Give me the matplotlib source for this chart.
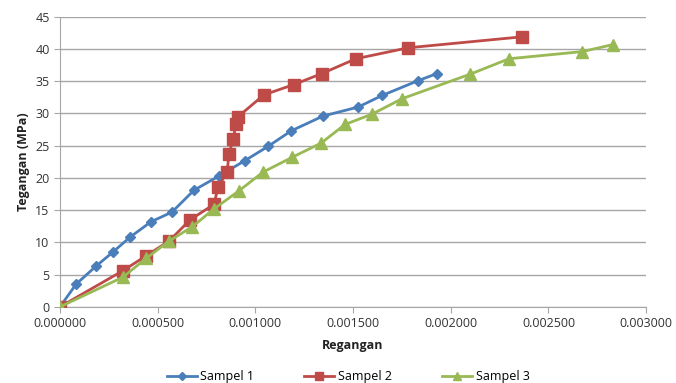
import matplotlib.pyplot as plt
from matplotlib.ticker import FormatStrFormatter, MultipleLocator

# Sampel 1
strain_1 = [0.0, 0.000082, 0.000184, 0.000271, 0.000358, 0.000466, 0.000573, 0.000686,
            0.000814, 0.000947, 0.001065, 0.001183, 0.001346, 0.001526, 0.001649,
            0.001833, 0.001930]
stress_1 = [0.0, 3.5, 6.3, 8.5, 10.8, 13.2, 14.7, 18.1, 20.3, 22.7, 24.9, 27.3, 29.6,
            31.0, 32.8, 35.1, 36.2]

# Sampel 2
strain_2 = [0.0, 0.000322, 0.000440, 0.000558, 0.000666, 0.000788, 0.000809, 0.000855,
            0.000865, 0.000886, 0.000901, 0.000911, 0.001044, 0.001198, 0.001340,
            0.001515, 0.001782, 0.002365]
stress_2 = [0.0, 5.6, 7.9, 10.2, 13.5, 15.9, 18.6, 20.9, 23.7, 26.1, 28.3, 29.5, 32.9,
            34.5, 36.2, 38.5, 40.2, 41.9]

# Sampel 3
strain_3 = [0.0, 0.000322, 0.000440, 0.000558, 0.000676, 0.000788, 0.000916, 0.001039,
            0.001188, 0.001336, 0.001459, 0.001597, 0.001751, 0.002099, 0.002299,
            0.002672, 0.002831]
stress_3 = [0.0, 4.6, 7.5, 10.2, 12.4, 15.2, 18.0, 20.9, 23.2, 25.4, 28.3, 29.9, 32.3,
            36.1, 38.5, 39.6, 40.7]

plt.rcParams['font.family'] = ['Open Sans', 'DejaVu Sans']

fig = plt.figure(figsize=(6.76, 3.83), dpi=100)
ax = fig.add_axes([0.0888, 0.199, 0.867, 0.757])

ax.plot(strain_1, stress_1, color='#4A7EBB', marker='D', markersize=5.5, linewidth=2,
        label='Sampel 1', zorder=3)
ax.plot(strain_2, stress_2, color='#BE4B48', marker='s', markersize=8, linewidth=2,
        label='Sampel 2', zorder=3)
ax.plot(strain_3, stress_3, color='#98B954', marker='^', markersize=8, linewidth=2,
        label='Sampel 3', zorder=3)

ax.set_xlim(0, 0.003)
ax.set_ylim(0, 45)
ax.xaxis.set_major_locator(MultipleLocator(0.0005))
ax.yaxis.set_major_locator(MultipleLocator(5))
ax.xaxis.set_major_formatter(FormatStrFormatter('%.6f'))

ax.grid(axis='y', color='#a6a6a6', linewidth=1)
ax.set_axisbelow(True)
for side in ['top', 'right']:
    ax.spines[side].set_visible(False)
for side in ['left', 'bottom']:
    ax.spines[side].set_color('#a6a6a6')
ax.tick_params(axis='both', colors='#a6a6a6', labelcolor='#333333', labelsize=9,
               length=4)

ax.set_xlabel('Regangan', fontsize=9, fontweight='bold', color='#222222', labelpad=6)
ax.set_ylabel('Tegangan (MPa)', fontsize=9, fontweight='bold', color='#222222', labelpad=4)

leg = fig.legend(loc='lower center', bbox_to_anchor=(0.515, -0.03), ncol=3, frameon=False,
                 fontsize=9, handlelength=2.4, handletextpad=0.3, columnspacing=4,
                 markerscale=0.7)

fig.savefig('out.png', dpi=100)
